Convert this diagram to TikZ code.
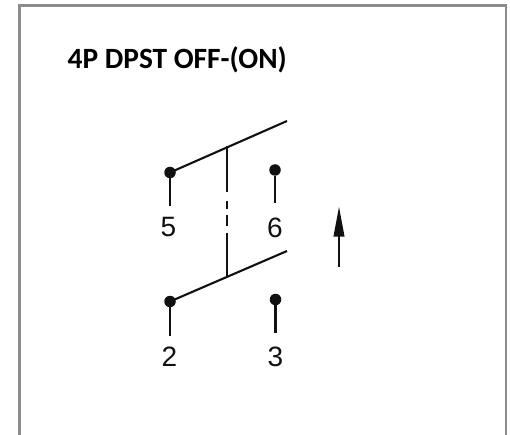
\documentclass[tikz,border=0pt]{standalone}
\usepackage{fontspec}
\setmainfont{Liberation Sans}
\newfontfamily\titlefont{Carlito}
\usetikzlibrary{arrows.meta}
\definecolor{framegray}{HTML}{8C8C8C}
\definecolor{inkblack}{HTML}{111111}
\tikzset{
  termdot/.style={circle,fill=inkblack,inner sep=0pt,minimum size=11.5pt},
  wire/.style={draw=inkblack,line width=2.1pt},
  termlabel/.style={inner sep=0pt,text=inkblack,font=\fontsize{28}{28}\selectfont},
  frameline/.style={draw=framegray,line width=2.6pt},
}
\begin{document}
\begin{tikzpicture}[x=1pt,y=-1pt]
\useasboundingbox (0,0) rectangle (510,435);
\fill[white] (0,0) rectangle (510,435);
\draw[frameline] (19.5,435) -- (19.5,5.5) -- (506,5.5) -- (506,435);
\node[anchor=base west,inner sep=0pt,font=\titlefont\bfseries\fontsize{29.4}{29.4}\selectfont] (title) at (67.5,69) {4P DPST OFF-(ON)};
% terminals
\node[termdot] (t5) at (170,172.5) {};
\node[termdot] (t6) at (275,170) {};
\node[termdot] (t2) at (170,301.5) {};
\node[termdot] (t3) at (275.5,299.5) {};
\coordinate (s5) at (170,206.5);
\coordinate (s6) at (275,203.5);
\coordinate (s2) at (170,336);
\coordinate (s3) at (275.5,333);
\coordinate (b5) at (287,121);
\coordinate (b2) at (287,251);
\draw[wire] (t5) -- (s5);
\draw[wire] (t6) -- (s6);
\draw[wire] (t2) -- (s2);
\draw[wire] (t3) -- (s3);
\draw[wire] (t5.center) -- (b5);
\draw[wire] (t2.center) -- (b2);
% mechanical link
\coordinate (l1) at (227.3,146.5);
\coordinate (l2) at (227.3,192);
\coordinate (l3) at (227.3,201.5);
\coordinate (l4) at (227.3,209);
\coordinate (l5) at (227.3,215);
\coordinate (l6) at (227.3,226);
\coordinate (l7) at (227.3,232.5);
\coordinate (l8) at (227.3,276);
\draw[wire] (l1) -- (l2) (l3) -- (l4) (l5) -- (l6) (l7) -- (l8);
% labels
\node[termlabel] (n5) at (168.5,227.5) {5};
\node[termlabel] (n6) at (275,227.5) {6};
\node[termlabel] (n2) at (169.5,356.5) {2};
\node[termlabel] (n3) at (275.5,356.5) {3};
% actuation arrow
\coordinate (atail) at (339,267);
\coordinate (ahead) at (339,206.5);
\draw[wire,-{Triangle[length=30pt,width=10.5pt]}] (atail) -- (ahead);
\end{tikzpicture}
\end{document}
